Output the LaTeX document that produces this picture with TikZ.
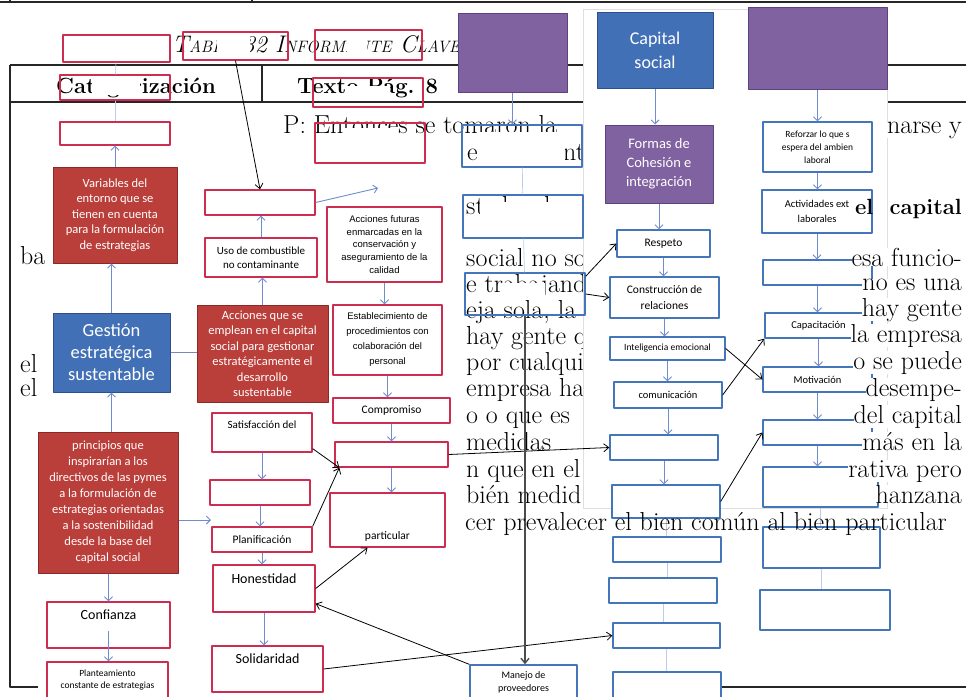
\documentclass[tikz,border=0pt]{standalone}
\usepackage{fontspec}
\newfontfamily\calfont{Carlito}
\newfontfamily\arialfont{Liberation Sans}
\usetikzlibrary{arrows.meta}

\definecolor{rojofondo}{RGB}{186,62,58}
\definecolor{rojoborde}{RGB}{140,40,40}
\definecolor{rojolinea}{RGB}{205,45,80}
\definecolor{azulfondo}{RGB}{66,112,182}
\definecolor{azulborde}{RGB}{45,80,140}
\definecolor{azullinea}{RGB}{68,118,188}
\definecolor{moradofondo}{RGB}{128,98,160}
\definecolor{moradoborde}{RGB}{92,66,126}
\definecolor{flecha}{RGB}{112,140,205}

\newcommand{\fuente}[2]{\calfont\fontsize{#1}{#2}\selectfont}
\newcommand{\versal}[1]{{\fontsize{16.5}{16.5}\selectfont #1}}

\begin{document}
\begin{tikzpicture}[x=1pt,y=-1pt,line join=round,
  caja/.style={line width=1.3pt,inner sep=1pt,align=center,font=\fuente{11.5}{14}},
  cajaroja/.style={caja,draw=rojolinea,fill=white},
  cajaazul/.style={caja,draw=azullinea,fill=white},
  hueca/.style={caja,draw=rojolinea},
  huecaazul/.style={caja,draw=azullinea},
  llenaroja/.style={caja,draw=rojoborde,fill=rojofondo,text=white,line width=1pt},
  llenaazul/.style={caja,draw=azulborde,fill=azulfondo,text=white,line width=1pt},
  llenamorada/.style={caja,draw=moradoborde,fill=moradofondo,text=white,line width=1pt},
  tam/.style 2 args={minimum width=#1pt,minimum height=#2pt},
  rotulo/.style={inner sep=0pt,font=\fuente{14}{16}},
  enlace/.style={draw=flecha,line width=0.9pt,-{Straight Barb[length=4pt,width=8pt]}},
  tenue/.style={draw=flecha!45,line width=0.7pt},
  negra/.style={draw=black,line width=0.8pt,-{Straight Barb[length=5pt,width=8pt]}},
  doble/.style={draw=black!70,line width=1.4pt,-{Straight Barb[length=5pt,width=8pt]}},
  tabla/.style={draw=black!85,line width=1.5pt},
  texto/.style={font=\fontsize{26}{27}\selectfont,inner sep=0pt,anchor=base west},
  textoder/.style={texto,anchor=base east,fill=white}]
  \useasboundingbox[fill=white] (0,0) rectangle (966,696);

  % tabla de fondo
  \draw[tabla,line width=2.5pt] (0,2) -- (966,2);
  \draw[tabla] (10,0) -- (10,3) (252,0) -- (252,3);
  \draw[tabla] (10,65) -- (966,65);
  \draw[tabla] (10,102) -- (966,102);
  \draw[tabla] (262,65) -- (262,102);
  \draw[tabla] (10,65) -- (10,687) -- (38,687);
  \draw[tabla] (722,687) -- (966,687);
  \node[anchor=base west,inner sep=0pt] (titulo) at (172,52)
    {\itshape\fontsize{24}{24}\selectfont T\versal{ABLA} 32 I\versal{NFORMANTE} C\versal{LAVE}};
  \node[anchor=base,inner sep=0pt,font=\bfseries\fontsize{22}{24}\selectfont] (cat) at (136,93) {Categorización};
  \node[anchor=base west,inner sep=0pt,font=\bfseries\fontsize{22}{24}\selectfont] (pag) at (297,93) {Texto Pág. 8};

  % texto del cuerpo
  \node[texto] (p) at (283,133) {P: Entonces se tomaron la};
  \node[texto] at (467,160) {e};
  \node[texto] at (563,160) {nt};
  \foreach \y/\t in {214/{sted es la},266/{social no so},292/{e trabajando},318/{eja sola, la},
      344/{hay gente q},370/{por cualquie},396/{empresa ha},423/{o o que es},
      450/{medidas},477/{n que en el},503/{bién medid}}
    \node[texto] at (466,\y) {\t};
  \foreach \y/\t in {264/ba,372/el,396/el}
    \node[texto] at (20,\y) {\t};

  % hoja blanca del centro
  \draw[gray!25,fill=white] (583,9) rectangle (887,508);

  % parches
  \foreach \a/\b/\c/\d in {92/80/140/95,217/36/250/56,347/38/367/56,347/86/390/100,
      343/128/398/155,478/132/565/160,480/202/567/232,500/283/545/300}
    \fill[white] (\a,\b) rectangle (\c,\d);

  % cajas sin texto
  \foreach \n/\cx/\cy/\w/\h in {lA/116.5/48.5/107/27,lC/115/133.5/110/23,m0/260/202.5/110/25,
      mbl/391.5/454.5/113/25,sbl/260/492.5/100/25}
    \node[cajaroja,tam={\w}{\h}] (\n) at (\cx,\cy) {};
  \foreach \n/\cx/\cy/\w/\h in {lB/115/87.5/110/25,tA/235.5/46/105/28,mA/368.5/45/107/30,
      mB/368/92.5/110/29,mC/370/143/110/40}
    \node[hueca,tam={\w}{\h}] (\n) at (\cx,\cy) {};
  \foreach \n/\cx/\cy/\w/\h in {b1/522/146/120/42,b2/523/216.5/120/43,b3/525/294/120/42}
    \node[huecaazul,tam={\w}{\h}] (\n) at (\cx,\cy) {};
  \foreach \n/\cx/\cy/\w/\h in {c1/664/447.5/108/25,c2/666/501.5/108/33,c3/667/549.5/108/25,
      c4/663/590.5/108/25,c5/666.5/635.5/107/25,c6/667/686/108/28,r1/817.5/272.5/109/25,
      r3/817.5/432.5/109/25,r4/820.5/487/115/40,r5/821.5/547.5/117/41,r6/825/610/130/40}
    \node[cajaazul,tam={\w}{\h}] (\n) at (\cx,\cy) {};
  \foreach \n/\cx/\cy/\w/\h in {pA/512.5/52.5/109/79,pB/817.5/48/139/82}
    \node[llenamorada,tam={\w}{\h}] (\n) at (\cx,\cy) {};

  % columna izquierda
  \node[llenaroja,tam={124}{96},font=\fuente{12.5}{15.5}] (var) at (115,215)
    {Variables del\\entorno que se\\tienen en cuenta\\para la formulación\\de estrategias};
  \node[llenaazul,tam={117}{79},font=\fuente{18.5}{22}] (gest) at (111.5,352.5)
    {Gestión\\estratégica\\sustentable};
  \node[llenaroja,tam={140}{141},font=\fuente{12.5}{16}] (prin) at (108,502.5)
    {principios que\\inspirarían a los\\directivos de las pymes\\a la formulación de\\estrategias orientadas\\a la sostenibilidad\\desde la base del\\capital social};
  \node[cajaroja,tam={123}{46},label={[rotulo,anchor=north,yshift=-8pt]north:Confianza}] (conf) at (108.5,625) {};
  \node[cajaroja,tam={121}{36},font=\fuente{9.5}{12.5}] (plan) at (107.5,680)
    {Planteamiento\\constante de estrategias};

  % segunda columna
  \node[cajaroja,tam={112}{39},font=\fuente{11}{14}] (uso) at (261,257.5) {Uso de combustible\\no contaminante};
  \node[llenaroja,tam={131}{97},font=\fuente{12.5}{15.5}] (acc) at (262.5,353.5)
    {Acciones que se\\emplean en el capital\\social para gestionar\\estratégicamente el\\desarrollo\\sustentable};
  \node[cajaroja,tam={100}{39},label={[rotulo,font=\fuente{11}{13},anchor=north,yshift=-8pt]north:Satisfacción del}] (sat) at (262,432.5) {};
  \node[cajaroja,tam={100}{25}] (planif) at (262,539.5) {Planificación};
  \node[cajaroja,tam={102}{47},label={[rotulo,anchor=north,yshift=-9pt]north:Honestidad}] (hon) at (264,588.5) {};
  \node[cajaroja,tam={111}{46},label={[rotulo,anchor=north,yshift=-8pt]north:Solidaridad}] (sol) at (267.5,669) {};

  % tercera columna
  \node[cajaroja,tam={115}{75},font=\arialfont\fontsize{9.5}{12.7}\selectfont] (fut) at (384.5,244.5)
    {Acciones futuras\\enmarcadas en la\\conservación y\\aseguramiento de la\\calidad};
  \node[cajaroja,tam={109}{70},font=\arialfont\fontsize{9.5}{15}\selectfont] (est) at (387.5,340)
    {Establecimiento de\\procedimientos con\\colaboración del\\personal};
  \node[cajaroja,tam={117}{25}] (comp) at (391.5,410.5) {Compromiso};
  \node[cajaroja,tam={115}{54},label={[rotulo,font=\fuente{11.5}{13},anchor=south,yshift=6pt]south:particular}] (part) at (387.5,520) {};
  \node[cajaazul,tam={107}{35},font=\fuente{10}{13}] (man) at (523.5,682.5) {Manejo de\\proveedores};
  \coordinate (futarr) at (378,188);
  \coordinate (pe) at (211,520);

  % capital social
  \node[llenaazul,tam={116}{76},font=\fuente{18}{24}] (cap) at (655,50) {Capital\\social};
  \node[llenamorada,tam={108}{78},font=\fuente{14.5}{19}] (form) at (659,164) {Formas de\\Cohesión e\\integración};
  \node[cajaazul,tam={93}{27}] (resp) at (663.5,243.5) {Respeto};
  \node[cajaazul,tam={109}{41},font=\fuente{11.5}{16}] (cons) at (664.5,297.5) {Construcción de\\relaciones};
  \node[cajaazul,tam={115}{23},font=\fuente{9.5}{11}] (intel) at (667.5,348.5) {Inteligencia emocional};
  \node[cajaazul,tam={108}{26},font=\fuente{10.5}{12}] (comu) at (668,395) {comunicación};

  % columna derecha
  \node[cajaazul,tam={109}{50},font=\fuente{9.5}{13}] (ref) at (817.5,147) {Reforzar lo que s\\espera del ambien\\laboral};
  \node[cajaazul,tam={110}{43},font=\fuente{10.5}{15}] (act) at (817,211.5) {Actividades ext\\laborales};
  \node[cajaazul,tam={107}{25},font=\fuente{10.5}{12}] (capac) at (818.5,325.5) {Capacitación};
  \node[cajaazul,tam={109}{25},font=\fuente{10.5}{12}] (motiv) at (817.5,379.5) {Motivación};

  % flechas
  \draw[tenue] (lA) -- (lB);
  \draw[tenue] (lB) -- (lC);
  \draw[enlace] (var.north) -- (var.north |- lC.south);
  \draw[enlace] (gest.north) -- (gest.north |- var.south);
  \draw[enlace] (prin.north -| gest) -- (gest.south);
  \draw[draw=flecha!70!gray,line width=0.9pt] (gest.east) -- (gest.east -| acc.west);
  \draw[enlace] (prin.east |- pe) -- (pe);
  \draw[enlace] (prin.south -| conf) -- (conf.north);
  \draw[enlace] ([yshift=-6pt]conf.center) -- (conf.center |- plan.north);
  \draw[negra] (tA.south) -- (m0.north);
  \draw[enlace] (uso.north) -- (uso.north |- m0.south);
  \draw[enlace] (acc.north) -- (acc.north |- uso.south);
  \draw[enlace] (m0.east) -- (futarr);
  \foreach \a/\b in {fut/est,est/comp,comp/mbl,mbl/part,sat/sbl,sbl/planif,planif/hon,hon/sol}
    \draw[enlace] (\a.south) -- (\a.south |- \b.north);
  \draw[negra] ([yshift=4pt]sat.south east) -- ([xshift=5pt]mbl.south west);
  \draw[negra] (planif.north east) -- ([xshift=5pt]mbl.south west);
  \draw[negra] (mbl.east) -- (c1.west);
  \draw[negra] (hon.east) -- ([xshift=-20pt]part.south);
  \draw[negra] (man.north west) -- ([yshift=9pt]hon.south east);
  \draw[negra] (sol.east) -- (c5.west);
  \draw[enlace] (pA.south) -- (pA.south |- b1.north);
  \draw[tenue] (b1) -- (b2);
  \draw[tenue] (b2) -- (b3);
  \draw[negra] ([yshift=-4pt]b3.north east) -- (resp.west);
  \draw[negra] (b3.east) -- (cons.west);
  \draw[doble] (b3.south) -- (b3.south |- man.north);
  \draw[enlace] (cap.south) -- (cap.south |- form.north);
  \draw[enlace] (form.south) -- (form.south |- resp.north);
  \foreach \a/\b in {resp/cons,cons/intel,intel/comu,comu/c1,c1/c2,pB/ref,ref/act,act/r1,r1/capac,capac/motiv,motiv/r3,r3/r4}
    \draw[enlace] (\a.south) -- (\a.south |- \b.north);
  \foreach \a/\b in {c2/c3,c3/c4,c4/c5,c5/c6,r4/r5,r5/r6}
    \draw[tenue] (\a.south) -- (\a.south |- \b.north);
  \draw[negra] (intel.east) -- (motiv.west);
  \draw[negra] (comu.east) -- (capac.south west);
  \draw[negra] (c2.east) -- (r3.west);

  % texto a la derecha
  \foreach \y/\t in {133/{narse y},266/{esa funcio-},290/{no es una},
      316/{hay gente},342/{la empresa},369/{o se puede},396/{desempe-},423/{del capital},
      450/{más en la},477/{rativa pero},503/{hanzana}}
    \node[textoder] at (962,\y) {\t};
  \node[texto,font=\bfseries\fontsize{22}{24}\selectfont] at (855,214) {el};
  \node[textoder,font=\bfseries\fontsize{22}{24}\selectfont] at (962,214) {capital};
  \node[texto] (fin) at (465,530) {cer prevalecer el bien común al bien particular};
\end{tikzpicture}
\end{document}
